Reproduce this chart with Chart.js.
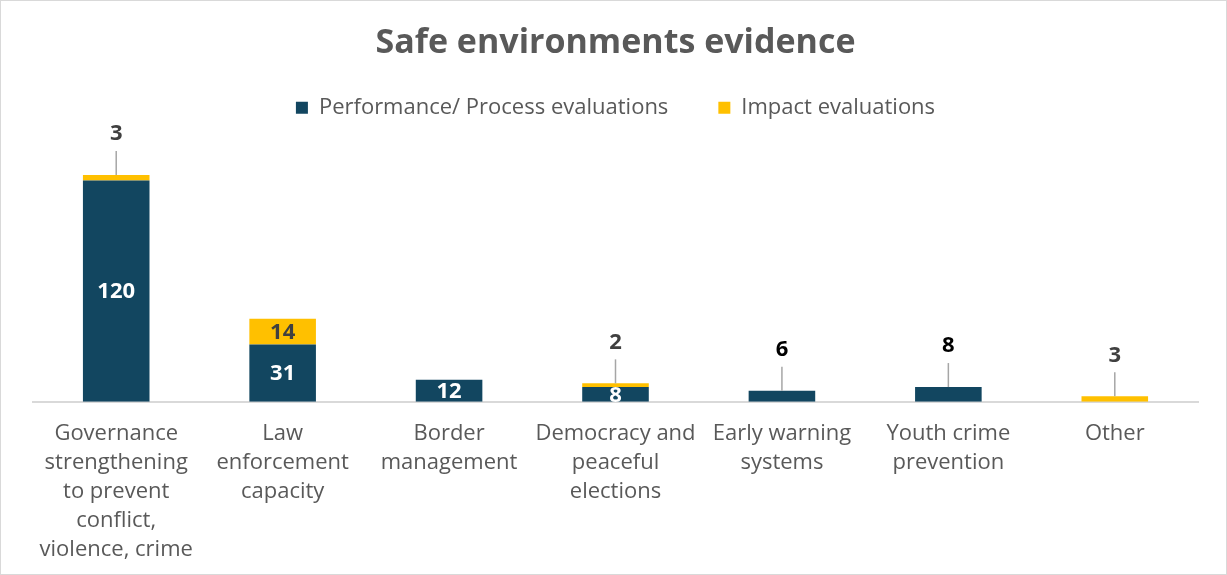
<!DOCTYPE html>
<html>
<head>
<meta charset="utf-8">
<script src="https://cdn.jsdelivr.net/npm/chart.js@4"></script>
<style>
  html, body { margin: 0; padding: 0; background: #fff; }
  .frame { width: 1227px; height: 575px; box-sizing: border-box; border: 1px solid #d9d9d9; }
  .frame canvas { display: block; }
</style>
</head>
<body>
<div class="frame">
  <canvas id="evidenceChart" width="1225" height="573"></canvas>
</div>
<script>
const categories = [
  ["Governance", "strengthening", "to prevent", "conflict,", "violence, crime"],
  ["Law", "enforcement", "capacity"],
  ["Border", "management"],
  ["Democracy and", "peaceful", "elections"],
  ["Early warning", "systems"],
  ["Youth crime", "prevention"],
  ["Other"]
];
const performanceValues = [120, 31, 12, 8, 6, 8, 0];
const impactValues = [3, 14, 0, 2, 0, 0, 3];

const NAVY = "#124660";
const GOLD = "#FFC000";
const FONT = "'Open Sans', 'Liberation Sans', sans-serif";

// which labels sit above the bar with a leader line (like Excel "best fit")
const calloutLabels = [
  [false, false, false, false, true, true, false],
  [true, false, false, true, false, false, true]
];

const barLabels = {
  id: "barLabels",
  afterDatasetsDraw(chart) {
    const ctx = chart.ctx;
    ctx.save();
    ctx.font = "bold 22px " + FONT;
    ctx.textAlign = "center";
    ctx.textBaseline = "middle";
    chart.data.datasets.forEach((ds, di) => {
      const meta = chart.getDatasetMeta(di);
      meta.data.forEach((bar, i) => {
        const v = ds.data[i];
        if (!v) return;
        if (calloutLabels[di][i]) {
          const top = Math.min(bar.y, bar.base);
          ctx.strokeStyle = "#a6a6a6";
          ctx.lineWidth = 1.5;
          ctx.beginPath();
          ctx.moveTo(bar.x, top - 24);
          ctx.lineTo(bar.x, top);
          ctx.stroke();
          ctx.fillStyle = di === 0 ? "#000000" : "#404040";
          ctx.fillText(v, bar.x, top - 41);
        } else {
          ctx.fillStyle = di === 0 ? "#ffffff" : "#404040";
          ctx.fillText(v, bar.x, (bar.y + bar.base) / 2 + 1);
        }
      });
    });
    ctx.restore();
  }
};

const ctx = document.getElementById("evidenceChart").getContext("2d");
new Chart(ctx, {
  type: "bar",
  data: {
    labels: categories,
    datasets: [
      {
        label: "Performance/ Process evaluations",
        data: performanceValues,
        backgroundColor: NAVY,
        borderWidth: 0
      },
      {
        label: "Impact evaluations",
        data: impactValues,
        backgroundColor: GOLD,
        borderWidth: 0
      }
    ]
  },
  options: {
    responsive: false,
    animation: false,
    layout: { padding: { top: 22, left: 32, right: 28, bottom: 1 } },
    datasets: { bar: { categoryPercentage: 1, barPercentage: 0.4 } },
    plugins: {
      title: {
        display: true,
        text: "Safe environments evidence",
        color: "#595959",
        font: { family: FONT, size: 34, weight: "bold" },
        padding: { top: 0, bottom: -17 }
      },
      legend: {
        position: "top",
        labels: {
          color: "#595959",
          font: { family: FONT, size: 22 },
          boxWidth: 12,
          boxHeight: 12,
          padding: 50
        }
      },
      tooltip: { enabled: false }
    },
    scales: {
      x: {
        stacked: true,
        grid: { display: false },
        border: { display: true, color: "#d9d9d9", width: 2 },
        ticks: {
          color: "#595959",
          font: { family: FONT, size: 22, lineHeight: 1.32 },
          padding: 9,
          maxRotation: 0,
          autoSkip: false
        }
      },
      y: {
        stacked: true,
        display: false,
        min: 0,
        max: 148
      }
    }
  },
  plugins: [barLabels]
});
</script>
</body>
</html>
